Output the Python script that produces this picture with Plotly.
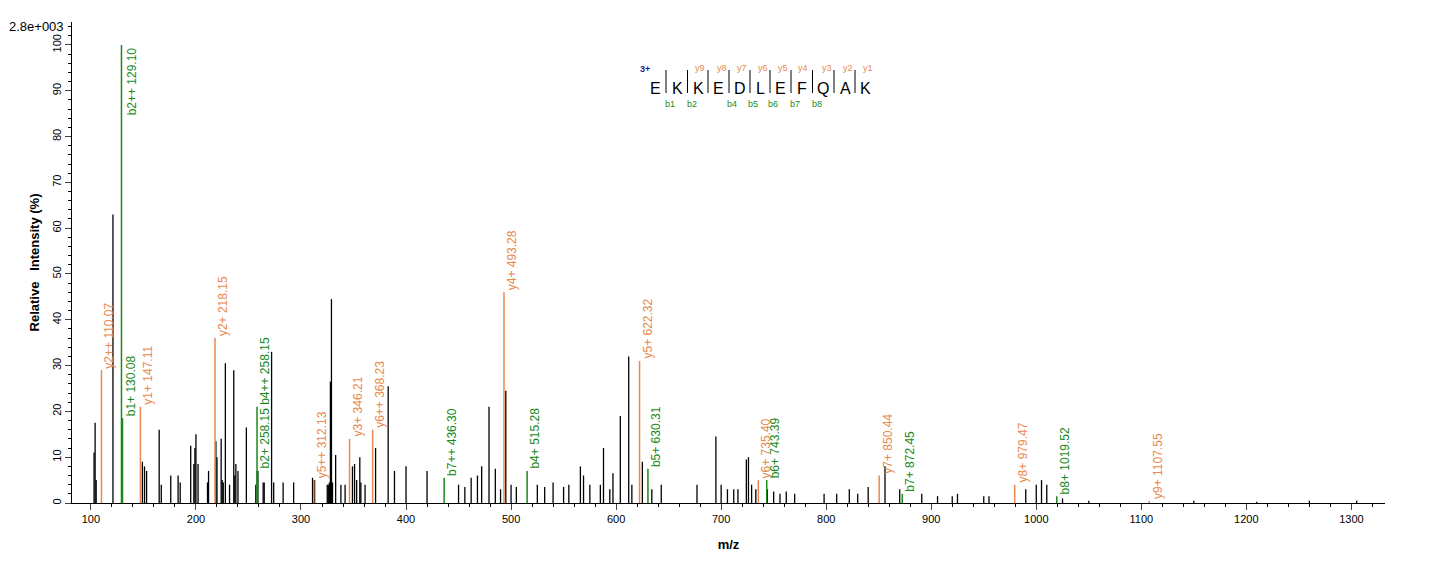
import plotly.graph_objects as go

# unannotated peaks (m/z, relative intensity %)
peak_mz = [103, 104, 105, 121, 149, 151, 153, 165, 167, 176, 183, 185, 195, 198, 199, 200, 202, 211, 212,
           219, 220, 224, 225, 226, 228, 232, 236, 237, 238, 240, 248, 257, 259, 264, 265, 272, 274, 283,
           293, 311, 313, 325, 326, 327, 328, 329, 330, 333, 338, 342, 349, 351, 353, 356, 357, 361, 371,
           383, 389, 400, 420, 450, 456, 462, 468, 472, 479, 485, 490, 495, 500, 505, 525, 532, 540, 550,
           555, 566, 569, 575, 585, 588, 594, 597, 604, 612, 615, 625, 634, 643, 677, 695, 700, 706, 712,
           716, 724, 726, 729, 733, 744, 750, 756, 762, 770, 798, 810, 822, 830, 840, 856, 870, 891, 906,
           920, 925, 950, 955, 990, 1000, 1005, 1010, 1025, 1050, 1150, 1210, 1260, 1305]
peak_int = [11, 17.5, 5, 63, 9, 8, 7, 16, 4, 6, 6, 4.5, 12.5, 8.5, 12, 15, 8.5, 4.5, 7,
            13.5, 10, 14, 5, 4.5, 30.5, 4, 29, 6, 8.5, 7, 16.5, 4, 7, 4.5, 4.5, 33, 4.5, 4.5,
            4.5, 5.5, 5, 4, 4, 4.5, 26.5, 44.5, 4.5, 10.5, 4, 4, 8, 8.5, 5, 10, 4.5, 4, 12,
            25.5, 7, 8, 7, 4, 3.5, 5.5, 6, 8, 21, 7.5, 3, 24.5, 4, 3.5, 4, 3.5, 4.5, 3.5,
            4, 8, 6, 4, 4, 12, 3, 6.5, 19, 32, 4, 9, 3, 4, 4, 14.5, 4, 3, 3,
            3, 9.5, 10, 4, 3, 3, 2.5, 2, 2.5, 2, 2, 2, 3, 2, 3.5, 8, 3, 2, 1.5,
            1.5, 2, 1.5, 1.5, 3, 4, 5, 4, 1, 0.5, 0.5, 0.3, 0.5, 0.5]

# annotated fragment ions
ion_mz = [110.07, 129.10, 130.08, 147.11, 218.15, 258.15, 258.15, 312.13, 346.21, 368.23, 436.30, 493.28,
          515.28, 622.32, 630.31, 735.40, 743.39, 850.44, 872.45, 979.47, 1019.52, 1107.55]
ion_int = [29, 100, 18.5, 21, 36, 7, 21, 5, 14, 16, 5.5, 46, 7, 31, 7.5, 5, 5, 6, 2, 4, 1.5, 0.5]
ion_label = ["y2++ 110.07", "b2++ 129.10", "b1+ 130.08", "y1+ 147.11", "y2+ 218.15", "b2+ 258.15",
             "b4++ 258.15", "y5++ 312.13", "y3+ 346.21", "y6++ 368.23", "b7++ 436.30", "y4+ 493.28",
             "b4+ 515.28", "y5+ 622.32", "b5+ 630.31", "y6+ 735.40", "b6+ 743.39", "y7+ 850.44",
             "b7+ 872.45", "y8+ 979.47", "b8+ 1019.52", "y9+ 1107.55"]

sequence = list("EKKEDLEFQAK")
y_ions = ["y9", "y8", "y7", "y6", "y5", "y4", "y3", "y2", "y1"]
b_ions = ["b1", "b2", "b4", "b5", "b6", "b7", "b8"]

ORANGE = "#e8894f"
GREEN = "#1a8a1a"

def stems(xs, ys):
    sx, sy = [], []
    for x, y in zip(xs, ys):
        sx += [x, x, None]
        sy += [0, y, None]
    return sx, sy

fig = go.Figure()
sx, sy = stems(peak_mz, peak_int)
fig.add_trace(go.Scatter(x=sx, y=sy, mode="lines", line=dict(color="black", width=1.3), hoverinfo="skip"))
for mz, it, lab in zip(ion_mz, ion_int, ion_label):
    col = GREEN if lab.startswith("b") else ORANGE
    sx, sy = stems([mz], [it])
    fig.add_trace(go.Scatter(x=sx, y=sy, mode="lines", line=dict(color=col, width=1.5), hoverinfo="skip"))
    top = lab == "b2++ 129.10"
    fig.add_annotation(x=mz, y=100 if top else it, text=lab, textangle=-90, showarrow=False,
                       xanchor="left" if top else "center", yanchor="top" if top else "bottom",
                       xshift=1 if top else 8, font=dict(color=col, size=12, family="Arial"))

# peptide sequence annotation (reference pixel positions converted to paper coords)
def px(x):
    return (x - 72) / 1313

def py(y):
    return (503 - y) / 481

letter_x = [655, 677, 698, 718, 740, 760, 780, 802, 823, 845, 865]
for ch, lx in zip(sequence, letter_x):
    fig.add_annotation(x=px(lx), y=py(78), xref="paper", yref="paper", text=ch, showarrow=False,
                       font=dict(size=16, color="black", family="Arial"))
y_x = [700, 722, 742, 763, 783, 803, 827, 848, 868]
for lab, lx in zip(y_ions, y_x):
    fig.add_annotation(x=px(lx), y=py(61), xref="paper", yref="paper", text=lab, showarrow=False,
                       font=dict(size=9, color=ORANGE, family="Arial"))
b_x = [670, 692, 732, 753, 773, 795, 817]
for lab, lx in zip(b_ions, b_x):
    fig.add_annotation(x=px(lx), y=py(97), xref="paper", yref="paper", text=lab, showarrow=False,
                       font=dict(size=9, color=GREEN, family="Arial"))
for a, b in zip(letter_x[:-1], letter_x[1:]):
    m = (a + b) / 2
    fig.add_shape(type="line", xref="paper", yref="paper", x0=px(m), x1=px(m), y0=py(93), y1=py(70),
                  line=dict(color="black", width=1))
fig.add_annotation(x=px(645), y=py(62), xref="paper", yref="paper", text="<b>3+</b>", showarrow=False,
                   font=dict(size=9, color="#1a1a8a", family="Arial"))
fig.add_annotation(x=0, y=1.0, xref="paper", yref="paper", text="2.8e+003", showarrow=False,
                   xanchor="right", yanchor="middle", xshift=-6, yshift=-4,
                   font=dict(size=13, color="black", family="Arial"))

fig.update_layout(
    width=1436, height=562, showlegend=False,
    plot_bgcolor="white", paper_bgcolor="white",
    margin=dict(l=64, r=59, t=14, b=67),
    font=dict(family="Arial", color="black"),
    xaxis=dict(range=[82, 1332], tickvals=list(range(100, 1301, 100)), showgrid=False, zeroline=False,
               showline=True, linecolor="black", ticks="outside", ticklen=6,
               minor=dict(dtick=20, ticks="outside", ticklen=3, tickcolor="black"),
               title=dict(text="<b>m/z</b>", font=dict(size=13)), tickfont=dict(size=11)),
    yaxis=dict(range=[0, 105], tickvals=list(range(0, 101, 10)), showgrid=False, zeroline=False,
               showline=True, linecolor="black", ticks="outside", ticklen=6, tickangle=-90,
               minor=dict(dtick=2, ticks="outside", ticklen=3, tickcolor="black"),
               title=dict(text="<b>Relative   Intensity (%)</b>", font=dict(size=13), standoff=8),
               tickfont=dict(size=11)),
)

fig.write_html("out.html")
